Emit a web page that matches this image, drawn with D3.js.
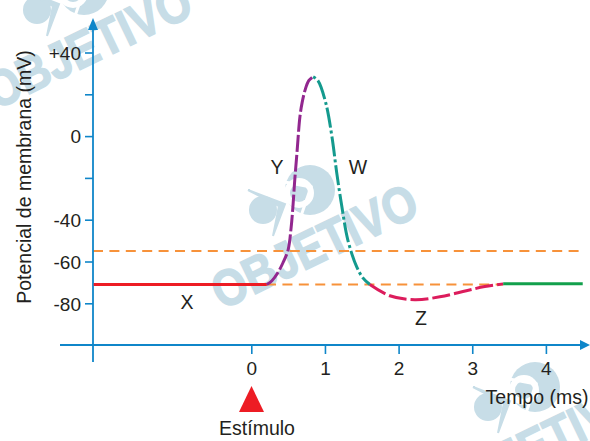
<!DOCTYPE html>
<html><head><meta charset="utf-8">
<script src="https://cdn.jsdelivr.net/npm/d3@7"></script>
<style>html,body{margin:0;padding:0;background:#fff}svg{display:block}text{font-family:"Liberation Sans",Arial,sans-serif;fill:#231f20}</style>
</head><body><svg id="c" width="590" height="441"></svg>
<script>
const yTickValues=[40,20,0,-20,-40,-60,-80];
const yTickLabels=["+40","","0","","-40","-60","-80"];
const xTickValues=[0,1,2,3,4];
const threshold=-55, resting=-71;
const phaseX=[[-2.14,-71],[0.21,-71]];
const phaseY=[[0.21,-71],[0.28,-69.2],[0.36,-65.4],[0.43,-60.6],[0.50,-54.4],[0.54,-44],[0.565,-33.8],[0.59,-21],[0.62,-8],[0.66,9.2],[0.69,16],[0.73,22],[0.78,26.5],[0.84,28.4]];
const phaseW=[[0.84,28.4],[0.905,26.5],[1.01,16],[1.095,-0.3],[1.16,-17.6],[1.23,-33.8],[1.31,-49.6],[1.43,-62.5],[1.515,-67.8],[1.61,-71]];
const phaseZ=[[1.61,-71],[1.88,-76.4],[2.22,-78.3],[2.56,-76.9],[2.92,-74],[3.17,-72],[3.42,-70.7]];
const phaseEnd=[[3.42,-70.7],[4.5,-70.7]];
const svg=d3.select("#c");
const x=d3.scaleLinear().domain([0,4]).range([251.3,545.9]);
const y=d3.scaleLinear().domain([40,-80]).range([52.5,303.3]);
const line=d3.line().x(d=>x(d[0])).y(d=>y(d[1]));
const smooth=d3.line().x(d=>x(d[0])).y(d=>y(d[1])).curve(d3.curveCatmullRom.alpha(0.5));
const axisCol="#0f86c9", wm="#c7dde7", fs=19, lfs=19.5;

function mark(tx,ty){
  const g=svg.append("g").attr("transform",`translate(${tx},${ty})`);
  g.append("text").attr("transform","rotate(-25.7)").attr("x",0).attr("y",0).attr("font-size",51).attr("font-weight",700)
    .attr("text-anchor","middle").attr("textLength",222).attr("lengthAdjust","spacingAndGlyphs")
    .style("fill",wm).style("stroke",wm).style("stroke-width",1.5).text("OBJETIVO");
  // logo, relative to the text anchor
  g.append("circle").attr("cx",-12).attr("cy",-72).attr("r",25).attr("fill",wm);
  g.append("circle").attr("cx",-59).attr("cy",-52).attr("r",14).attr("fill",wm);
  g.append("circle").attr("cx",-23).attr("cy",-69).attr("r",15).attr("fill","#fff");
  g.append("circle").attr("cx",-23).attr("cy",-69).attr("r",9).attr("fill",wm);
  g.append("path").attr("d","M-48,-82 L-11,-75 L-21,-46").attr("fill","none").attr("stroke","#fff").attr("stroke-width",3);
  g.append("path").attr("d","M-74,-72 L-37,-58 L-49,-26 L-43,-56 Z").attr("fill",wm).attr("stroke",wm).attr("stroke-width",2);
}
mark(322,262);
mark(96,62);
mark(547,459);

// reference lines
[[93,x(4.45),threshold],[x(0.2),x(3.42),resting]].forEach(r=>{
  svg.append("line").attr("x1",r[0]).attr("x2",r[1]).attr("y1",y(r[2])).attr("y2",y(r[2]))
    .attr("stroke","#f7923a").attr("stroke-width",2).attr("stroke-dasharray","10 6.4");
});

// axes
const yAxis=d3.axisLeft(y).tickValues(yTickValues).tickSize(8).tickFormat((d,i)=>yTickLabels[i]);
const yg=svg.append("g").attr("transform","translate(93,0)").call(yAxis);
const xAxis=d3.axisBottom(x).tickValues(xTickValues).tickSize(9).tickFormat(d3.format("d"));
const xg=svg.append("g").attr("transform","translate(0,345)").call(xAxis);
[yg,xg].forEach(g=>{g.select(".domain").remove();g.selectAll("line").attr("stroke",axisCol).attr("stroke-width",1.6);
  g.selectAll("text").attr("font-size",fs).attr("font-family",null);});
yg.selectAll("text").attr("x",-12).attr("dy","0.36em");
xg.selectAll("text").attr("y",29.5).attr("dy","0");
svg.append("line").attr("x1",93).attr("x2",93).attr("y1",28).attr("y2",362).attr("stroke",axisCol).attr("stroke-width",1.8);
svg.append("line").attr("x1",60).attr("x2",582).attr("y1",345).attr("y2",345).attr("stroke",axisCol).attr("stroke-width",1.8);
svg.append("path").attr("d","M93,18 L88,30 L98,30 Z").attr("fill",axisCol);
svg.append("path").attr("d","M590,345 L580,340 L580,350 Z").attr("fill",axisCol);

// curve
svg.append("path").datum(phaseX).attr("d",line).attr("fill","none").attr("stroke","#ed1c24").attr("stroke-width",3);
svg.append("path").datum(phaseY).attr("d",smooth).attr("fill","none").attr("stroke","#92278f").attr("stroke-width",3).attr("stroke-dasharray","17 3");
svg.append("path").datum(phaseW).attr("d",smooth).attr("fill","none").attr("stroke","#149a8e").attr("stroke-width",3).attr("stroke-dasharray","3 3 20 3");
svg.append("path").datum(phaseZ).attr("d",smooth).attr("fill","none").attr("stroke","#dc1c5c").attr("stroke-width",3).attr("stroke-dasharray","18 4");
svg.append("path").datum(phaseEnd).attr("d",line).attr("fill","none").attr("stroke","#12a04c").attr("stroke-width",3);

// labels
const label=(t,px,py,a="middle")=>svg.append("text").attr("x",px).attr("y",py).attr("text-anchor",a).attr("font-size",lfs).text(t);
label("X",187,309);label("Y",277,174);label("W",358,174);label("Z",421,325);
label("Estímulo",257,435);label("Tempo (ms)",537,404);
svg.append("text").attr("transform","translate(31,177) rotate(-90)").attr("text-anchor","middle").attr("font-size",lfs).text("Potencial de membrana (mV)");
svg.append("path").attr("d","M251.5,386 L264,412 L239,412 Z").attr("fill","#ed1c24");
</script></body></html>
